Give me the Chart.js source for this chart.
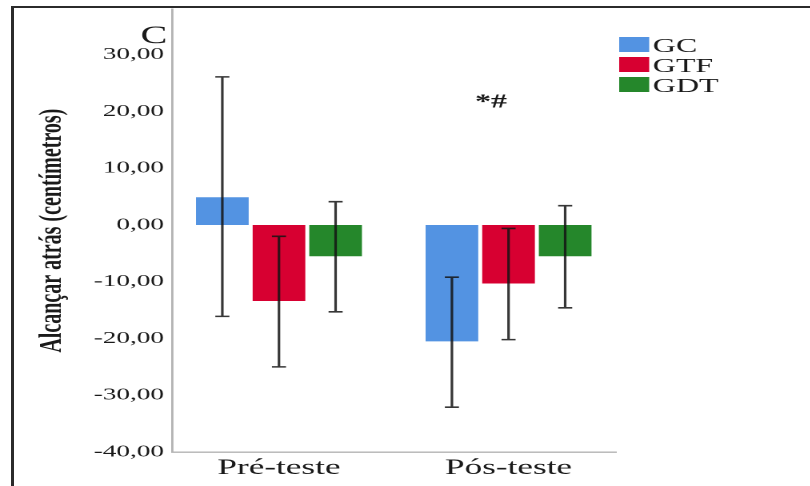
<!DOCTYPE html>
<html>
<head>
<meta charset="utf-8">
<script src="https://cdn.jsdelivr.net/npm/chart.js@4.4.1/dist/chart.umd.min.js"></script>
<style>
  html, body { margin: 0; padding: 0; background: #fff; width: 810px; height: 486px; overflow: hidden; }
  #wrap { position: absolute; left: 0; top: 0; width: 506px; height: 486px; transform: scaleX(1.6); transform-origin: 0 0; }
  #frame { position: absolute; left: 11px; top: 6px; right: 0; bottom: 0; border-left: 3px solid #2b2b2b; border-top: 2px solid #2b2b2b; pointer-events: none; }
</style>
</head>
<body>
<div id="wrap"><canvas id="c" width="506" height="486"></canvas></div>
<div id="frame"></div>
<script>
// ---- data ----
const categories = ['Pré-teste', 'Pós-teste'];
const seriesNames = ['GC', 'GTF', 'GDT'];
const gcMean  = [4.9, -20.5];
const gtfMean = [-13.4, -10.3];
const gdtMean = [-5.5, -5.5];
const gcLow   = [-16.1, -32.1];
const gcHigh  = [26.1, -9.2];
const gtfLow  = [-25.0, -20.2];
const gtfHigh = [-2.0, -0.6];
const gdtLow  = [-15.3, -14.6];
const gdtHigh = [4.1, 3.4];
const yTickValues = [-40, -30, -20, -10, 0, 10, 20, 30];
const yTickLabels = ['-40,00', '-30,00', '-20,00', '-10,00', '0,00', '10,00', '20,00', '30,00'];
const yTitle = 'Alcançar atrás (centímetros)';
const panelLetter = 'C';
const significance = '*#';
const significanceAt = { category: 1, value: 21.6 };

const serif = '"Liberation Serif", "Times New Roman", serif';

const errorBars = {
  id: 'errorBars',
  afterDatasetsDraw(chart) {
    const ctx = chart.ctx, y = chart.scales.y;
    ctx.save();
    ctx.strokeStyle = 'rgba(20,20,20,0.85)';
    ctx.lineWidth = 1.6;
    chart.data.datasets.forEach((ds, i) => {
      chart.getDatasetMeta(i).data.forEach((bar, j) => {
        const x = bar.x;
        const yt = y.getPixelForValue(ds.high[j]);
        const yb = y.getPixelForValue(ds.low[j]);
        const cap = 4.4;
        ctx.beginPath();
        ctx.moveTo(x, yt); ctx.lineTo(x, yb);
        ctx.moveTo(x - cap, yt); ctx.lineTo(x + cap, yt);
        ctx.moveTo(x - cap, yb); ctx.lineTo(x + cap, yb);
        ctx.stroke();
      });
    });
    ctx.restore();
  }
};

const extras = {
  id: 'extras',
  afterDraw(chart) {
    const ctx = chart.ctx;
    ctx.save();
    // panel letter
    ctx.fillStyle = '#1a1a1a';
    ctx.font = '25px ' + serif;
    ctx.textAlign = 'right';
    ctx.textBaseline = 'alphabetic';
    ctx.fillText(panelLetter, 104.5, 43);
    // significance marks
    ctx.font = 'bold 20px ' + serif;
    ctx.textAlign = 'center';
    ctx.textBaseline = 'middle';
    const sx = chart.scales.x.getPixelForValue(significanceAt.category) - 11;
    const sy = chart.scales.y.getPixelForValue(significanceAt.value);
    ctx.fillText(significance, sx, sy);
    // legend
    ctx.font = '20px ' + serif;
    ctx.textAlign = 'left';
    ctx.textBaseline = 'alphabetic';
    chart.data.datasets.forEach((ds, i) => {
      const top = 37 + i * 20;
      ctx.fillStyle = ds.backgroundColor;
      ctx.fillRect(387, top, 18.75, 15);
      ctx.fillStyle = '#1a1a1a';
      ctx.fillText(ds.label, 408, top + 15);
    });
    ctx.restore();
  }
};

const colors = ['#5393e2', '#d70031', '#25872b'];
const means = [gcMean, gtfMean, gdtMean];
const lows = [gcLow, gtfLow, gdtLow];
const highs = [gcHigh, gtfHigh, gdtHigh];

new Chart(document.getElementById('c'), {
  type: 'bar',
  data: {
    labels: categories,
    datasets: seriesNames.map((name, i) => ({
      label: name,
      data: means[i],
      low: lows[i],
      high: highs[i],
      backgroundColor: colors[i],
      borderWidth: 0,
      categoryPercentage: 0.74,
      barPercentage: 0.93
    }))
  },
  options: {
    responsive: false,
    animation: false,
    devicePixelRatio: 2,
    layout: { padding: { top: 9.35, right: 121, left: 0, bottom: 0 } },
    plugins: { legend: { display: false }, tooltip: { enabled: false } },
    scales: {
      x: {
        grid: { display: false, drawTicks: false },
        border: { display: true, color: '#b3b3b3', width: 1.4 },
        ticks: { font: { family: serif, size: 22 }, color: '#1a1a1a', padding: 3 },
        afterBuildTicks: s => { s._startValue = -0.466; s._valueRange = 1.934; },
        afterFit: s => { s.height = 34; s.paddingLeft = 0; s.paddingRight = 0; }
      },
      y: {
        min: -40,
        max: 38,
        grid: { display: false, drawTicks: false },
        border: { display: true, color: '#b3b3b3', width: 1.4 },
        afterBuildTicks: s => { s.ticks = yTickValues.map(v => ({ value: v })); },
        ticks: {
          font: { family: serif, size: 17 },
          color: '#1a1a1a',
          padding: 5,
          callback: v => yTickLabels[yTickValues.indexOf(v)]
        },
        title: {
          display: true,
          text: yTitle,
          font: { family: serif, size: 20, weight: 'bold' },
          color: '#1a1a1a',
          padding: { top: 21, bottom: 0 }
        },
        afterFit: s => { s.width = 107.5; s.paddingTop = 0; s.paddingBottom = 0; }
      }
    }
  },
  plugins: [errorBars, extras]
});
</script>
</body>
</html>
